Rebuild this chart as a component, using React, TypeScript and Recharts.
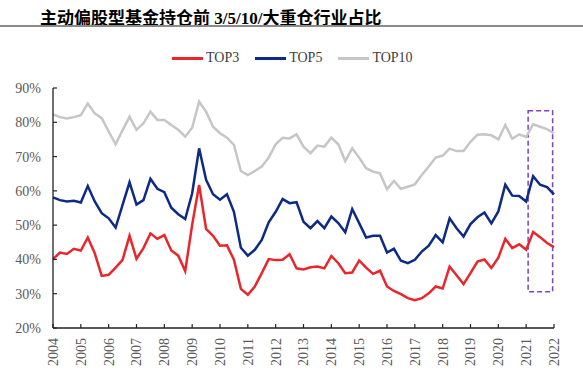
import React from 'react';
import { LineChart, Line, XAxis, YAxis, ReferenceArea } from 'recharts';

// quarterly, 2004Q1 .. 2022Q1 (73 points), in %
const top3 = [
  40.1, 42.0, 41.6, 43.1, 42.6, 46.4, 41.8, 35.2, 35.5, 37.6, 39.9, 46.9,
  40.2, 43.3, 47.6, 46.0, 47.1, 42.6, 41.1, 36.6, 50.1, 61.7, 48.9, 46.9,
  44.0, 44.1, 39.9, 31.4, 29.7, 32.1, 36.0, 40.1, 39.8, 39.9, 41.5, 37.4,
  37.1, 37.7, 37.9, 37.4, 41.0, 38.9, 36.0, 36.2, 39.7, 37.6, 35.8, 36.7,
  32.1, 30.8, 29.9, 28.7, 28.1, 28.7, 30.1, 32.1, 31.5, 37.9, 35.4, 32.8,
  36.0, 39.4, 40.0, 37.5, 40.5, 46.0, 43.3, 44.4, 42.8, 48.0, 46.5, 44.8,
  43.6,
];
const top5 = [
  58.1, 57.3, 56.9, 57.1, 56.6, 61.4, 56.9, 53.5, 52.0, 49.3, 55.9, 62.5,
  56.0, 57.3, 63.5, 60.6, 59.6, 55.1, 53.2, 51.8, 59.3, 72.4, 63.2, 59.0,
  57.4, 59.0, 53.9, 43.4, 41.1, 42.8, 45.7, 50.8, 53.9, 57.6, 56.4, 56.7,
  51.0, 49.1, 51.2, 49.1, 52.5, 50.6, 47.9, 54.7, 50.6, 46.4, 46.9, 46.9,
  42.0, 43.1, 39.6, 38.9, 39.9, 42.3, 44.0, 47.1, 45.0, 52.0, 49.1, 46.7,
  50.3, 52.3, 53.7, 50.5, 54.0, 61.8, 58.6, 58.5, 56.9, 64.3, 61.8, 61.1,
  59.0,
];
const top10 = [
  82.3, 81.5, 81.1, 81.5, 82.1, 85.5, 82.6, 81.2, 77.3, 73.6, 77.7, 81.6,
  77.8, 79.7, 83.1, 80.7, 80.7, 79.2, 77.8, 75.8, 78.4, 86.0, 83.1, 78.7,
  76.8, 75.5, 73.4, 65.8, 64.6, 65.8, 67.1, 69.7, 73.6, 75.5, 75.3, 76.5,
  72.9, 71.0, 73.2, 72.9, 75.5, 73.6, 68.7, 72.4, 69.7, 66.6, 65.6, 65.1,
  60.5, 62.9, 60.6, 61.2, 61.9, 64.6, 67.1, 69.7, 70.3, 72.3, 71.6, 71.6,
  74.3, 76.4, 76.5, 76.2, 75.0, 79.2, 75.2, 76.5, 75.7, 79.4, 78.7, 78.0,
  76.8,
];

const yearTicks = [
  2004, 2005, 2006, 2007, 2008, 2009, 2010, 2011, 2012, 2013,
  2014, 2015, 2016, 2017, 2018, 2019, 2020, 2021, 2022,
];
const pctTicks = [20, 30, 40, 50, 60, 70, 80, 90];

// highlighted window (dashed box)
const boxX = [2021.07, 2021.95];
const boxY = [30.6, 83.4];

const data = top3.map((v, i) => ({
  t: 2004 + i / 4,
  top3: v,
  top5: top5[i],
  top10: top10[i],
}));

const series = [
  { key: 'top3', name: 'TOP3', color: '#e8262b' },
  { key: 'top5', name: 'TOP5', color: '#0c2a86' },
  { key: 'top10', name: 'TOP10', color: '#c6c6c6' },
];

const serif = '"Liberation Serif", "Times New Roman", serif';

const YearTick = (props: any) => {
  const { x, y, payload } = props;
  return (
    <text
      x={x}
      y={y}
      dy="0.35em"
      transform={`rotate(-90, ${x}, ${y})`}
      textAnchor="end"
      fill="#595959"
      fontSize={14}
      fontFamily={serif}
    >
      {payload.value}
    </text>
  );
};

export default function App() {
  return (
    <div style={{ position: 'absolute', left: 0, top: 0, width: 583, height: 380, background: '#fff' }}>
      <div
        style={{
          position: 'absolute', left: 40, top: 4, fontSize: 17, fontWeight: 'bold',
          fontFamily: '"Liberation Serif", "Noto Sans CJK SC", serif', color: '#000', whiteSpace: 'nowrap',
        }}
      >
        主动偏股型基金持仓前 3/5/10/大重仓行业占比
      </div>
      <div style={{ position: 'absolute', left: 0, top: 25, width: 583, height: 2, background: '#8a8a8a' }} />
      <div
        style={{
          position: 'absolute', left: 172, top: 50, display: 'flex', alignItems: 'center', gap: 16,
          fontFamily: serif, fontSize: 14, color: '#404040',
        }}
      >
        {series.map((s) => (
          <div key={s.key} style={{ display: 'flex', alignItems: 'center' }}>
            <span style={{ display: 'inline-block', width: 31, height: 3, background: s.color, marginRight: 3 }} />
            <span>{s.name}</span>
          </div>
        ))}
      </div>
      <LineChart
        width={583}
        height={380}
        data={data}
        margin={{ top: 88, right: 29, left: 0, bottom: 0 }}
        style={{ position: 'absolute', left: 0, top: 0 }}
      >
        <XAxis
          dataKey="t"
          type="number"
          domain={[2004, 2022]}
          ticks={yearTicks}
          interval={0}
          height={52}
          axisLine={{ stroke: '#222', strokeWidth: 1.3 }}
          tickLine={{ stroke: '#222', strokeWidth: 1.2 }}
          tickSize={-4}
          tickMargin={14}
          tick={<YearTick />}
        />
        <YAxis
          type="number"
          domain={[20, 90]}
          ticks={pctTicks}
          interval={0}
          width={53}
          axisLine={{ stroke: '#222', strokeWidth: 1.3 }}
          tickLine={{ stroke: '#222', strokeWidth: 1.2 }}
          tickSize={-4}
          tickMargin={16}
          tickFormatter={(v: number) => `${v}%`}
          tick={{ fill: '#595959', fontSize: 14, fontFamily: serif }}
        />
        {series.slice().reverse().map((s) => (
          <Line
            key={s.key}
            type="linear"
            dataKey={s.key}
            name={s.name}
            stroke={s.color}
            strokeWidth={2.5}
            dot={false}
            isAnimationActive={false}
          />
        ))}
        <ReferenceArea
          x1={boxX[0]}
          x2={boxX[1]}
          y1={boxY[0]}
          y2={boxY[1]}
          fill="none"
          stroke="#7d3fc6"
          strokeWidth={1.5}
          strokeDasharray="5 3"
        />
      </LineChart>
    </div>
  );
}
